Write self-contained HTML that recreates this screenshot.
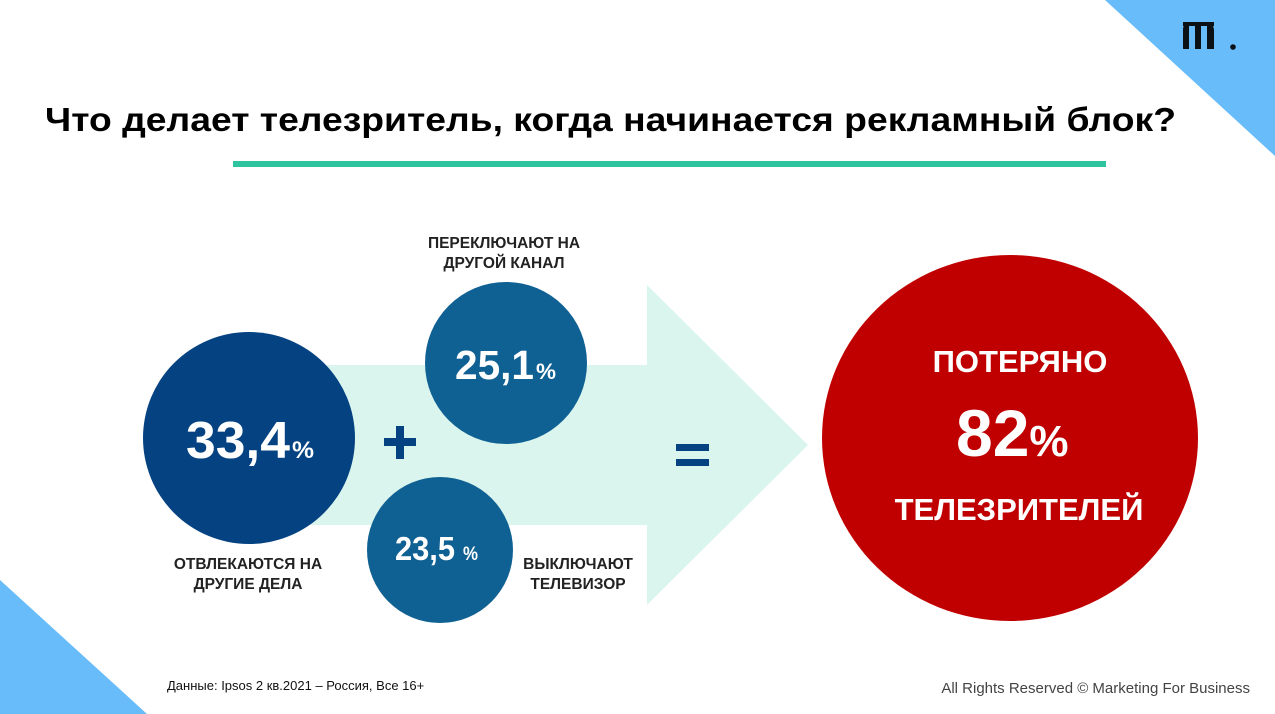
<!DOCTYPE html>
<html><head><meta charset="utf-8"><style>
html,body{margin:0;padding:0;background:#fff;}
svg{display:block;font-family:"Liberation Sans",Arial,sans-serif;}
</style></head><body>
<svg width="1275" height="714" viewBox="0 0 1275 714">
<polygon points="1105,0 1275,0 1275,156" fill="#67bcf9"/>
<polygon points="0,580 0,714 147,714" fill="#67bcf9"/>
<g fill="#0b1114">
<path d="M1183,49 L1183,30 Q1183,23 1189,22 L1189,49 Z"/>
<rect x="1195" y="22" width="6" height="27"/>
<path d="M1207,22 Q1213,22 1214,30 L1214,49 L1207,49 Z"/>
<rect x="1183" y="22" width="31" height="4"/>
<circle cx="1233" cy="47" r="2.8"/>
</g>
<text x="45" y="131" font-size="33" font-weight="bold" fill="#000" textLength="1131" lengthAdjust="spacingAndGlyphs">Что делает телезритель, когда начинается рекламный блок?</text>
<rect x="233" y="161" width="873" height="6" fill="#2ec4a0"/>
<polygon points="300,365 647,365 647,285 808,445 647,605 647,525 300,525" fill="#daf5ee"/>
<circle cx="249" cy="438" r="106" fill="#054281"/>
<circle cx="506" cy="363" r="81" fill="#106193"/>
<circle cx="440" cy="550" r="73" fill="#106193"/>
<ellipse cx="1010" cy="438" rx="188" ry="183" fill="#c00000"/>
<text x="186" y="458" font-size="52" font-weight="bold" fill="#fff" textLength="104" lengthAdjust="spacingAndGlyphs">33,4</text>
<text x="292" y="458" font-size="24" font-weight="bold" fill="#fff" textLength="22" lengthAdjust="spacingAndGlyphs">%</text>
<text x="455" y="379" font-size="41" font-weight="bold" fill="#fff" textLength="79" lengthAdjust="spacingAndGlyphs">25,1</text>
<text x="536" y="379" font-size="22" font-weight="bold" fill="#fff" textLength="20" lengthAdjust="spacingAndGlyphs">%</text>
<text x="395" y="560" font-size="33" font-weight="bold" fill="#fff" textLength="60" lengthAdjust="spacingAndGlyphs">23,5</text>
<text x="463" y="560" font-size="19" font-weight="bold" fill="#fff" textLength="15" lengthAdjust="spacingAndGlyphs">%</text>
<g fill="#054281">
<rect x="396" y="426" width="8" height="33"/><rect x="384" y="438" width="32" height="8"/>
</g>
<g fill="#054281">
<rect x="676" y="444" width="33" height="7"/><rect x="676" y="459" width="33" height="7"/>
</g>
<g font-size="15.5" font-weight="bold" fill="#222" text-anchor="middle">
<text x="504" y="248">ПЕРЕКЛЮЧАЮТ НА</text>
<text x="504" y="268">ДРУГОЙ КАНАЛ</text>
<text x="248" y="569">ОТВЛЕКАЮТСЯ НА</text>
<text x="248" y="589">ДРУГИЕ ДЕЛА</text>
<text x="578" y="569">ВЫКЛЮЧАЮТ</text>
<text x="578" y="589">ТЕЛЕВИЗОР</text>
</g>
<g fill="#fff" font-weight="bold" text-anchor="middle">
<text x="1020" y="372" font-size="31">ПОТЕРЯНО</text>
<text x="1019" y="520" font-size="31">ТЕЛЕЗРИТЕЛЕЙ</text>
</g>
<text x="956" y="456" font-size="66" font-weight="bold" fill="#fff">82<tspan font-size="44">%</tspan></text>
<text x="167" y="690" font-size="13" fill="#111">Данные: Ipsos 2 кв.2021 – Россия, Все 16+</text>
<text x="1250" y="693" font-size="15" fill="#444" text-anchor="end">All Rights Reserved © Marketing For Business</text>
</svg>
</body></html>
